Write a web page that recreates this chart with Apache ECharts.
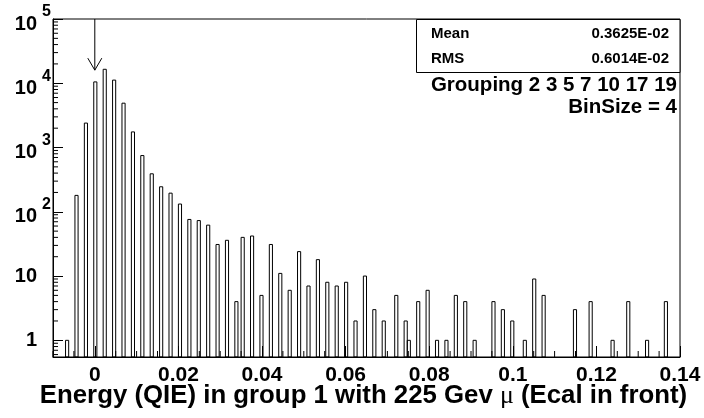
<!DOCTYPE html>
<html>
<head>
<meta charset="utf-8">
<script src="https://cdn.jsdelivr.net/npm/echarts@6/dist/echarts.min.js"></script>
<style>
  html, body { margin: 0; padding: 0; background: #fff; }
  #chart { width: 704px; height: 418px; }
</style>
</head>
<body>
<div id="chart"></div>
<script>
// Histogram binning: 200 bins of width 0.00075 from -0.01 to 0.14
const X_MIN = -0.01;
const X_MAX = 0.14;
const BIN_WIDTH = 0.00075;
const Y_MIN = 0.55;
const Y_MAX = 1e5;

// Filled bins (bin index) and their number of entries
const bins = [4, 7, 10, 13, 16, 19, 22, 25, 28, 31, 34, 37, 40, 43, 46, 49, 52, 55, 58, 60,
  63, 66, 69, 72, 75, 78, 81, 84, 87, 90, 93, 96, 99, 102, 105, 109, 112, 113, 116, 119,
  122, 125, 128, 131, 134, 140, 143, 146, 150, 153, 156, 166, 171, 178, 183, 189, 195];
const counts = [1, 180, 2400, 10500, 16500, 11200, 4900, 1750, 750, 390, 245, 195, 132, 76, 73, 62, 31, 36, 4, 40,
  42, 5, 31, 11, 6, 24, 7, 18, 8, 7, 8, 2, 10, 3, 2, 5, 2, 1, 4, 6,
  1, 1, 5, 4, 1, 4, 3, 2, 1, 9, 5, 3, 4, 1, 4, 1, 4];

// Axis tick values
const xTickValues = [0, 0.02, 0.04, 0.06, 0.08, 0.1, 0.12, 0.14];
const yTickValues = [1, 10, 100, 1000, 10000, 100000];

// Statistics box and notes
const statNames = ['Mean', 'RMS'];
const statValues = ['0.3625E-02', '0.6014E-02'];
const noteLines = ['Grouping 2 3 5 7 10 17 19', 'BinSize = 4'];

// Arrow marking the zero-energy position
const arrowX = 0;
const arrowFrom = 1e5;
const arrowTo = 16000;

const FONT = 'Liberation Sans, Arial, Helvetica, sans-serif';

// Minor tick positions (0.005 steps on x, 2..9 per decade on y)
const xMinor = [];
for (let j = 0; j <= 30; j++) {
  const v = +(X_MIN + j * 0.005).toFixed(4);
  if (!xTickValues.some(t => Math.abs(t - v) < 1e-9)) xMinor.push(v);
}
const yMinor = [];
for (let d = -1; d <= 4; d++) {
  for (let m = 2; m <= 9; m++) {
    const v = m * Math.pow(10, d);
    if (v > Y_MIN && v < Y_MAX) yMinor.push(v);
  }
}
const minorData = xMinor.map(v => [0, v]).concat(yMinor.map(v => [1, v]));

const histData = bins.map((k, i) => [X_MIN + k * BIN_WIDTH, X_MIN + (k + 1) * BIN_WIDTH, counts[i]]);

const chart = echarts.init(document.getElementById('chart'), null, { renderer: 'canvas' });

const graphic = [
  {
    type: 'rect', z: 10,
    shape: { x: 416.5, y: 19.5, width: 263.5, height: 53 },
    style: { fill: '#fff', stroke: '#000', lineWidth: 1 }
  }
];
statNames.forEach((name, i) => {
  const y = 34 + i * 25;
  graphic.push({
    type: 'text', z: 11, x: 431, y: y,
    style: { text: name, font: 'bold 15px ' + FONT, fill: '#000', textAlign: 'left', textVerticalAlign: 'middle' }
  });
  graphic.push({
    type: 'text', z: 11, x: 669, y: y,
    style: { text: statValues[i], font: 'bold 15px ' + FONT, fill: '#000', textAlign: 'right', textVerticalAlign: 'middle' }
  });
});
noteLines.forEach((line, i) => {
  graphic.push({
    type: 'text', z: 11, x: 677, y: 85 + i * 22,
    style: { text: line, font: 'bold 20.5px ' + FONT, fill: '#000', textAlign: 'right', textVerticalAlign: 'middle' }
  });
});

chart.setOption({
  animation: false,
  backgroundColor: '#fff',
  grid: {
    left: 53, right: 24, top: 19, bottom: 61,
    show: true, borderColor: '#000', borderWidth: 1,
    outerBoundsMode: 'none'
  },
  xAxis: {
    type: 'value',
    min: X_MIN, max: X_MAX,
    axisLine: { show: true, onZero: false, lineStyle: { color: '#000', width: 1 } },
    axisTick: { show: true, inside: true, length: 11, customValues: xTickValues, lineStyle: { color: '#000', width: 1 } },
    axisLabel: {
      customValues: xTickValues,
      margin: 8,
      color: '#000', fontSize: 21, fontWeight: 'bold', fontFamily: FONT,
      formatter: v => String(+v.toFixed(2))
    },
    splitLine: { show: false },
    name: 'Energy (QIE) in group 1 with 225 Gev {mu|μ} (Ecal in front)',
    nameLocation: 'middle',
    nameGap: 26,
    nameMoveOverlap: false,
    nameTextStyle: {
      color: '#000', fontSize: 25.8, fontWeight: 'bold', fontFamily: FONT,
      padding: [0, 6, 0, 0],
      rich: { mu: { fontSize: 25.8, fontWeight: 'normal', fontFamily: 'Liberation Serif, serif', color: '#000' } }
    }
  },
  yAxis: {
    type: 'log',
    logBase: 10,
    min: Y_MIN, max: Y_MAX,
    axisLine: { show: true, onZero: false, lineStyle: { color: '#000', width: 1 } },
    axisTick: { show: true, inside: true, length: 10, customValues: yTickValues, lineStyle: { color: '#000', width: 1 } },
    axisLabel: {
      customValues: yTickValues,
      margin: 2,
      color: '#000', fontFamily: FONT,
      formatter: v => {
        const n = Math.round(Math.log10(v));
        if (n >= 2) return '{b|10}{s|' + n + '}';
        return '{p|' + (n === 1 ? '10' : '1') + '}';
      },
      rich: {
        b: { fontSize: 20, fontWeight: 'bold', fontFamily: FONT, color: '#000', lineHeight: 20, padding: [10, 0, 0, 0] },
        s: { fontSize: 16, fontWeight: 'bold', fontFamily: FONT, color: '#000', lineHeight: 16, padding: [0, 0, 14, 5] },
        p: { fontSize: 20, fontWeight: 'bold', fontFamily: FONT, color: '#000', lineHeight: 20, padding: [0, 14, 0, 0] }
      }
    },
    splitLine: { show: false }
  },
  graphic: graphic,
  series: [
    {
      // histogram bins drawn as outlined boxes from the frame bottom
      type: 'custom',
      name: 'energy',
      data: histData,
      encode: { x: [0, 1], y: 2 },
      renderItem: (params, api) => {
        const p0 = api.coord([api.value(0), api.value(2)]);
        const p1 = api.coord([api.value(1), Y_MIN]);
        return {
          type: 'rect',
          shape: { x: p0[0], y: p0[1], width: p1[0] - p0[0], height: p1[1] - p0[1] },
          style: { fill: 'none', stroke: '#000', lineWidth: 1 }
        };
      },
      silent: true
    },
    {
      // minor ticks on the bottom and left axes
      type: 'custom',
      name: 'minorTicks',
      data: minorData,
      renderItem: (params, api) => {
        const which = api.value(0);
        const v = api.value(1);
        if (which === 0) {
          const p = api.coord([v, Y_MIN]);
          return { type: 'line', shape: { x1: p[0], y1: p[1], x2: p[0], y2: p[1] - 6 }, style: { stroke: '#000', lineWidth: 1 } };
        }
        const p = api.coord([X_MIN, v]);
        return { type: 'line', shape: { x1: p[0], y1: p[1], x2: p[0] + 5, y2: p[1] }, style: { stroke: '#000', lineWidth: 1 } };
      },
      encode: { x: -1, y: -1 },
      silent: true
    },
    {
      // arrow pointing at zero energy
      type: 'custom',
      name: 'arrow',
      data: [[arrowX, arrowFrom, arrowTo]],
      renderItem: (params, api) => {
        const top = api.coord([api.value(0), api.value(1)]);
        const tip = api.coord([api.value(0), api.value(2)]);
        return {
          type: 'group',
          children: [
            { type: 'line', shape: { x1: top[0], y1: top[1], x2: tip[0], y2: tip[1] }, style: { stroke: '#000', lineWidth: 1 } },
            { type: 'polyline', shape: { points: [[tip[0] - 7, tip[1] - 12], [tip[0], tip[1]], [tip[0] + 7, tip[1] - 12]] }, style: { stroke: '#000', lineWidth: 1, fill: 'none' } }
          ]
        };
      },
      encode: { x: 0, y: [1, 2] },
      silent: true
    }
  ]
});
</script>
</body>
</html>
